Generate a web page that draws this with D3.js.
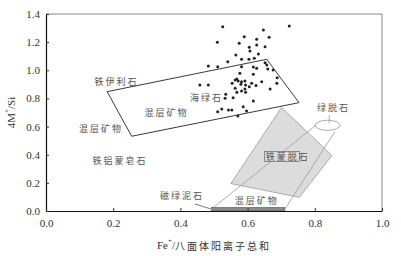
<!DOCTYPE html>
<html>
<head>
<meta charset="utf-8">
<script src="https://cdn.jsdelivr.net/npm/d3@7"></script>
<style>
  body { margin: 0; background: #fff; }
  .tick text { font-family: "Liberation Serif", serif; font-size: 11px; fill: #333; }
  .lbl { font-family: "Noto Sans CJK SC", sans-serif; font-size: 9px; fill: #555; letter-spacing: 2px; }
</style>
</head>
<body>
<div id="chart"></div>
<script>
// sample points, Fe+/octahedral sum vs 4M+/Si
var ptX = [0.526, 0.724, 0.647, 0.510, 0.590, 0.627, 0.664, 0.575, 0.627, 0.652,
           0.605, 0.607, 0.565, 0.632, 0.582, 0.604, 0.620, 0.541, 0.652, 0.483,
           0.511, 0.582, 0.617, 0.627, 0.657, 0.660, 0.577, 0.676, 0.617, 0.688,
           0.563, 0.572, 0.592, 0.642, 0.687, 0.458, 0.483, 0.554, 0.580, 0.612,
           0.625, 0.563, 0.592, 0.582, 0.594, 0.667, 0.535, 0.557, 0.617, 0.587,
           0.523, 0.543, 0.553, 0.511, 0.571, 0.597, 0.533, 0.568, 0.594, 0.568,
           0.582, 0.605];
var ptY = [1.310, 1.315, 1.286, 1.199, 1.239, 1.220, 1.235, 1.192, 1.180, 1.168,
           1.163, 1.137, 1.109, 1.116, 1.078, 1.078, 1.085, 1.061, 1.054, 1.031,
           1.026, 1.026, 1.023, 1.014, 1.038, 1.009, 0.979, 1.002, 0.972, 0.947,
           0.931, 0.924, 0.924, 0.919, 0.908, 0.896, 0.896, 0.908, 0.900, 0.908,
           0.891, 0.872, 0.867, 0.853, 0.844, 0.867, 0.829, 0.805, 0.782, 0.741,
           0.725, 0.718, 0.718, 0.706, 0.675, 0.711, 0.801, 0.844, 0.896, 0.938,
           0.919, 0.883];

// field outlines
var illiteField = [[0.182, 0.848], [0.657, 1.078], [0.753, 0.770], [0.255, 0.531]];
var montField = [[0.701, 0.736], [0.851, 0.395], [0.754, 0.097], [0.550, 0.195]];
var cylLeft = [[0.804, 0.611], [0.493, 0.014]];
var cylRight = [[0.860, 0.564], [0.711, 0.014]];
var noLeader = [[0.843, 0.682], [0.843, 0.623]];
var chamLeader = [[0.443, 0.050], [0.491, 0.014]];
var nontronite = {x: 0.838, y: 0.609, rx: 0.037, ry: 0.036};
var barRange = [0.493, 0.711, 0.025];

var labelText = ["铁伊利石", "海绿石", "混层矿物", "混层矿物", "铁铝蒙皂石", "磁绿泥石", "混层矿物", "绿脱石"];
var labelX = [0.210, 0.478, 0.359, 0.164, 0.220, 0.405, 0.627, 0.856];
var labelY = [0.917, 0.810, 0.697, 0.583, 0.362, 0.107, 0.078, 0.734];

var xTicks = [0, 0.2, 0.4, 0.6, 0.8, 1.0];
var yTicks = [0, 0.2, 0.4, 0.6, 0.8, 1.0, 1.2, 1.4];

var width = 401, height = 256;
var margin = {top: 14, right: 19, bottom: 45, left: 46};

var svg = d3.select("#chart").append("svg")
    .attr("width", width)
    .attr("height", height);

var x = d3.scaleLinear().domain([0, 1]).range([margin.left, width - margin.right]);
var y = d3.scaleLinear().domain([0, 1.4]).range([height - margin.bottom, margin.top]);

var line = d3.line().x(d => x(d[0])).y(d => y(d[1]));

// grey frame on top/right
svg.append("path")
    .attr("d", `M${x(0)},${y(1.4)}H${x(1)}V${y(0)}`)
    .attr("fill", "none")
    .attr("stroke", "#888")
    .attr("stroke-width", 1);

// grey montmorillonite field
svg.append("path")
    .attr("d", line(montField) + "Z")
    .attr("fill", "#dcdcdc")
    .attr("stroke", "#999")
    .attr("stroke-width", 0.8);

// cylinder (nontronite -> mixed layer)
[cylLeft, cylRight, noLeader].forEach(function(seg) {
    svg.append("path")
        .attr("d", line(seg))
        .attr("fill", "none")
        .attr("stroke", "#999")
        .attr("stroke-width", 0.8);
});

svg.append("ellipse")
    .attr("cx", x(nontronite.x))
    .attr("cy", y(nontronite.y))
    .attr("rx", x(nontronite.rx) - x(0))
    .attr("ry", y(0) - y(nontronite.ry))
    .attr("fill", "none")
    .attr("stroke", "#999")
    .attr("stroke-width", 0.8);

// chamosite leader + bar
svg.append("path")
    .attr("d", line(chamLeader))
    .attr("fill", "none")
    .attr("stroke", "#555")
    .attr("stroke-width", 0.8);

svg.append("rect")
    .attr("x", x(barRange[0]))
    .attr("y", y(barRange[2]))
    .attr("width", x(barRange[1]) - x(barRange[0]))
    .attr("height", y(0) - y(barRange[2]))
    .attr("fill", "#8a8a8a")
    .attr("stroke", "#555")
    .attr("stroke-width", 0.6);

// Fe-illite field outline
svg.append("path")
    .attr("d", line(illiteField) + "Z")
    .attr("fill", "none")
    .attr("stroke", "#222")
    .attr("stroke-width", 0.9);

// axes
var bottomAxis = d3.axisBottom(x).tickValues(xTicks).tickFormat(d3.format(".1f"))
    .tickSizeInner(-3).tickSizeOuter(0).tickPadding(8);
var leftAxis = d3.axisLeft(y).tickValues(yTicks).tickFormat(d3.format(".1f"))
    .tickSizeInner(-3).tickSizeOuter(0).tickPadding(6);

var gx = svg.append("g")
    .attr("transform", `translate(0, ${y(0)})`)
    .call(bottomAxis);
var gy = svg.append("g")
    .attr("transform", `translate(${x(0)}, 0)`)
    .call(leftAxis);

[gx, gy].forEach(function(g) {
    g.select(".domain").attr("stroke", "#111").attr("stroke-width", 1.2);
    g.selectAll(".tick line").attr("stroke", "#333");
});

// points
svg.append("g")
    .selectAll("circle")
    .data(ptX)
    .enter()
    .append("circle")
    .attr("cx", d => x(d))
    .attr("cy", (d, i) => y(ptY[i]))
    .attr("r", 1.5)
    .attr("fill", "#222");

// field labels
svg.append("g")
    .selectAll("text")
    .data(labelText)
    .enter()
    .append("text")
    .attr("class", "lbl")
    .attr("x", (d, i) => x(labelX[i]))
    .attr("y", (d, i) => y(labelY[i]))
    .attr("text-anchor", "middle")
    .attr("dominant-baseline", "central")
    .text(d => d);

// boxed Fe-montmorillonite label
var boxX = x(0.702), boxY = y(0.387);
svg.append("rect")
    .attr("x", boxX - 17.5)
    .attr("y", boxY - 5)
    .attr("width", 35)
    .attr("height", 10)
    .attr("fill", "#dcdcdc")
    .attr("stroke", "#666")
    .attr("stroke-width", 0.7);
svg.append("text")
    .attr("class", "lbl")
    .attr("x", boxX - 16)
    .attr("y", boxY)
    .attr("dominant-baseline", "central")
    .text("铁蒙脱石");

// axis titles
svg.append("text")
    .attr("transform", `translate(11, ${y(0.7)}) rotate(-90)`)
    .attr("text-anchor", "middle")
    .attr("dominant-baseline", "central")
    .style("font-family", "Liberation Serif, serif")
    .style("font-size", "11px")
    .style("fill", "#333")
    .html('4M<tspan dy="-4" font-size="7px">+</tspan><tspan dy="4">/Si</tspan>');

svg.append("text")
    .attr("x", 214)
    .attr("y", 245)
    .attr("text-anchor", "middle")
    .attr("dominant-baseline", "central")
    .style("font-family", "Liberation Serif, serif")
    .style("font-size", "11px")
    .style("fill", "#333")
    .html('Fe<tspan dy="-4" font-size="7px">+</tspan><tspan dy="4">/</tspan>' +
          '<tspan font-family="Noto Sans CJK SC" font-size="10px" letter-spacing="2px">八面体阳离子总和</tspan>');
</script>
</body>
</html>
